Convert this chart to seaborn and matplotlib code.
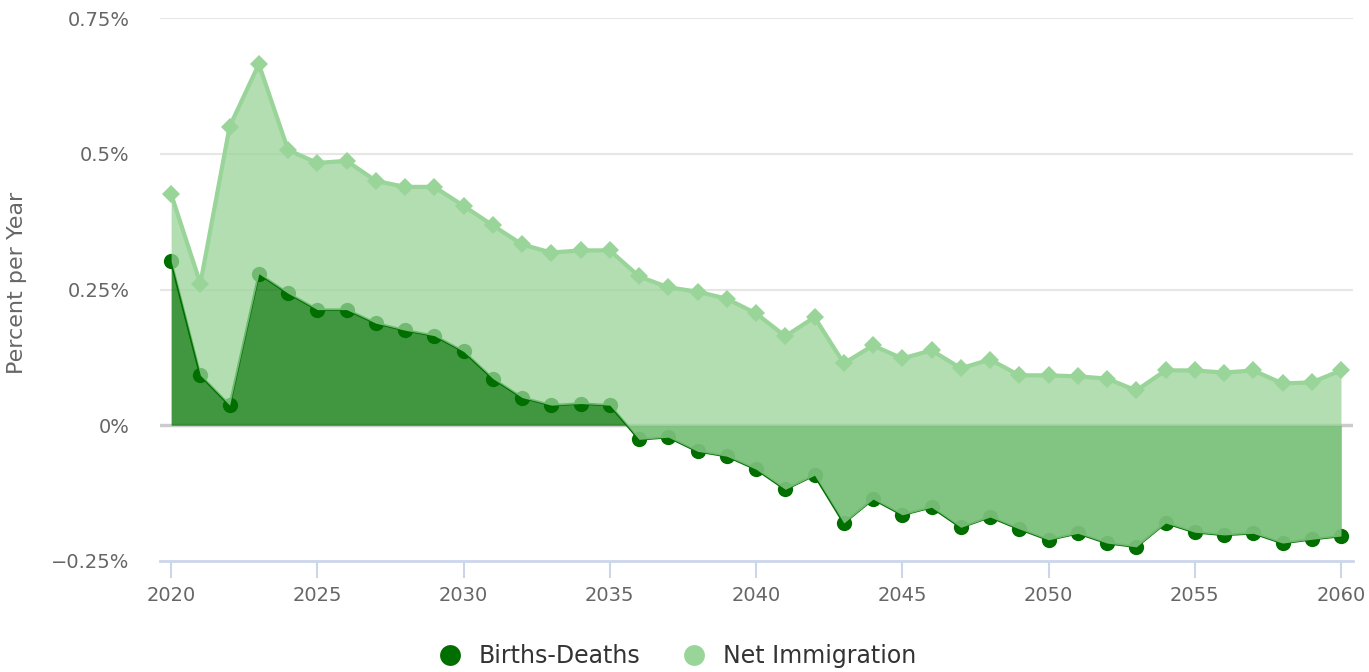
import matplotlib
matplotlib.use("Agg")
import matplotlib.pyplot as plt
from matplotlib.lines import Line2D
import seaborn as sns
import numpy as np
import pandas as pd

years = list(range(2020, 2061))
births_deaths = [0.302, 0.092, 0.037, 0.279, 0.243, 0.213, 0.213, 0.188, 0.175, 0.165,
                 0.136, 0.086, 0.051, 0.037, 0.040, 0.037, -0.026, -0.022, -0.048, -0.057,
                 -0.081, -0.118, -0.092, -0.180, -0.136, -0.165, -0.151, -0.188, -0.169, -0.191,
                 -0.211, -0.199, -0.217, -0.224, -0.180, -0.197, -0.202, -0.199, -0.217, -0.210,
                 -0.204]
net_immigration = [0.124, 0.169, 0.513, 0.386, 0.264, 0.270, 0.274, 0.262, 0.264, 0.274,
                   0.268, 0.282, 0.282, 0.281, 0.282, 0.285, 0.300, 0.276, 0.294, 0.290,
                   0.287, 0.282, 0.291, 0.294, 0.283, 0.288, 0.289, 0.293, 0.290, 0.283,
                   0.303, 0.289, 0.303, 0.288, 0.281, 0.298, 0.299, 0.300, 0.294, 0.289,
                   0.305]
y_ticks = [-0.25, 0, 0.25, 0.5, 0.75]
y_tick_labels = ["\u22120.25%", "0%", "0.25%", "0.5%", "0.75%"]
x_ticks = list(range(2020, 2061, 5))

DARK = "#006f00"
LIGHT = "#99d499"
GRID = "#e6e6e6"
AXIS = "#ccd6eb"
TEXT = "#666666"

df = pd.DataFrame({"year": years, "bd": births_deaths, "imm": net_immigration})
df["total"] = df["bd"] + df["imm"]  # stacked on top of births-deaths

sns.set_theme(style="white")
plt.rcParams["font.family"] = ["DejaVu Sans"]

fig = plt.figure(figsize=(13.69, 6.72), dpi=100)
ax = fig.add_axes([160 / 1369, 111 / 672, 1193 / 1369, 543 / 672])

# grid
for v in [0.25, 0.5, 0.75]:
    ax.axhline(v, color=GRID, lw=1.5, zorder=0)
ax.axhline(0, color="#cccccc", lw=2.5, zorder=0)

# births-deaths area
ax.fill_between(df["year"], 0, df["bd"], color="#007500", alpha=0.75, lw=0, zorder=1)
sns.lineplot(data=df, x="year", y="bd", ax=ax, color=DARK, lw=1.8, marker="o",
             markersize=11, markeredgewidth=0, zorder=2)

# net immigration stacked area
ax.fill_between(df["year"], df["bd"], df["total"], color=LIGHT, alpha=0.75, lw=0, zorder=3)
sns.lineplot(data=df, x="year", y="total", ax=ax, color=LIGHT, lw=3, marker="D",
             markersize=9.5, markeredgewidth=0, zorder=4)

ax.set_xlim(2019.62, 2060.41)
ax.set_ylim(-0.25, 0.75)
ax.set_yticks(y_ticks)
ax.set_yticklabels(y_tick_labels)
ax.set_xticks(x_ticks)
ax.tick_params(axis="y", length=0, pad=22, labelsize=14, labelcolor=TEXT)
ax.tick_params(axis="x", length=12, width=1.5, color=AXIS, pad=6, labelsize=14,
               labelcolor=TEXT, bottom=True)
ax.set_xlabel("")
ax.set_ylabel("Percent per Year", fontsize=16, color=TEXT)
ax.yaxis.set_label_coords(-133 / 1193, 0.512)

for s in ["top", "right", "left"]:
    ax.spines[s].set_visible(False)
ax.spines["bottom"].set_color(AXIS)
ax.spines["bottom"].set_linewidth(2)
ax.spines["bottom"].set_zorder(5)

handles = [Line2D([], [], ls="", marker="o", markersize=15, color=DARK, markeredgewidth=0),
           Line2D([], [], ls="", marker="o", markersize=15, color=LIGHT, markeredgewidth=0)]
fig.legend(handles, ["Births-Deaths", "Net Immigration"], loc="center",
           bbox_to_anchor=(677 / 1369, 1 - 656 / 672), ncol=2, frameon=False,
           fontsize=17, labelcolor="#333333", handlelength=1.0, handletextpad=0.7,
           columnspacing=1.8)

fig.savefig("out.png", dpi=100)
